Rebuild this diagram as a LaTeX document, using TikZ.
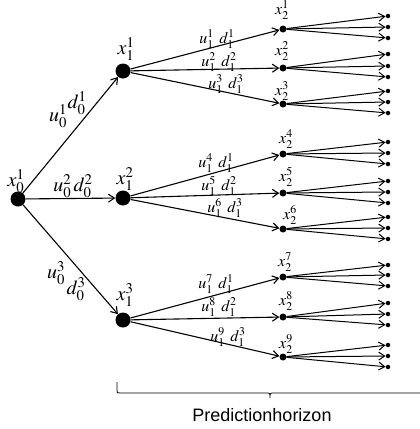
\documentclass[tikz,border=0pt]{standalone}
\usepackage{mathptmx}
\usepackage{fontspec}
\setmainfont{Liberation Serif}
\setsansfont{Liberation Sans}
\usetikzlibrary{arrows.meta}
\begin{document}
\begin{tikzpicture}[x=1pt,y=-1pt,
  >={Straight Barb[length=6pt,width=8pt]},
  big/.style={circle,fill,inner sep=0pt,minimum size=15pt},
  mid/.style={circle,fill,inner sep=0pt,minimum size=7pt},
  leaf/.style={circle,fill,inner sep=0pt,minimum size=4.5pt},
  edge/.style={->,line width=1.1pt},
  thinedge/.style={->,line width=1pt},
  lab/.style={font=\fontsize{20}{20}\selectfont,inner sep=0pt},
  slab/.style={font=\fontsize{16}{16}\selectfont,inner sep=0pt}]
\useasboundingbox (0,0) rectangle (420,429);
% root and level 1
\node[big] (r) at (18,199) {};
\node[big] (a1) at (123,71) {};
\node[big] (a2) at (123,198) {};
\node[big] (a3) at (123,320) {};
\node[lab] (lr) at (16,181) {$x_0^1$};
\node[lab] (la1) at (126,49) {$x_1^1$};
\node[lab] (la2) at (125,179) {$x_1^2$};
\node[lab] (la3) at (125,295) {$x_1^3$};
\draw[edge] (r) -- (a1);
\draw[edge] (r) -- (a2);
\draw[edge] (r) -- (a3);
\node[lab] (u01) at (58,116) {$u_0^1$};
\node[lab] (d01) at (77,103) {$d_0^1$};
\node[lab] (ud02) at (73,186) {$u_0^2\,d_0^2$};
\node[lab] (u03) at (56,273) {$u_0^3$};
\node[lab] (d03) at (76,289) {$d_0^3$};
% level 2
\foreach \k/\p/\y in {1/1/29,2/1/68,3/1/104,4/2/154,5/2/193,6/2/229,7/3/277,8/3/317,9/3/357}{
  \node[mid] (b\k) at (283,\y) {};
  \draw[edge] (a\p) -- (b\k);
}
\foreach \k/\x/\y in {1/282/10,2/282/51,3/282/91,4/286/139,5/286/177,6/290/215,7/285/262,8/286/301,9/286/344}{
  \node[slab] (lb\k) at (\x,\y) {$x_2^{\k}$};
}
\foreach \k/\j/\x/\y in {1/1/217/39,2/2/219/62,3/3/226/84,4/1/216/163,5/2/219/186,6/3/225/208,7/1/216/284,8/2/219/307,9/3/228/337}{
  \node[slab] (ue\k) at (\x,\y) {$u_1^{\k}\;\,d_1^{\j}$};
}
% leaves
\foreach \k/\ya/\yb/\yc in {1/16/27/38,2/54/66/77,3/91/102/113,4/142/153/164,5/181/192/203,6/217/228/239,7/265/275/286,8/303/314/325,9/345/356/367}{
  \node[leaf] (l\k a) at (388,\ya) {};
  \node[leaf] (l\k b) at (388,\yb) {};
  \node[leaf] (l\k c) at (388,\yc) {};
  \draw[thinedge] (b\k) -- (l\k a);
  \draw[thinedge] (b\k) -- (l\k b);
  \draw[thinedge] (b\k) -- (l\k c);
}
% horizon brace
\coordinate (bl) at (117,382);
\coordinate (br) at (425,393);
\draw[line width=0.8pt] (bl) -- (117,390) .. controls (117,393) .. (120,393) -- (266,393)
  .. controls (270,393) .. (270,398) .. controls (270,393) .. (274,393) -- (br);
\node[font=\sffamily\fontsize{18}{18}\selectfont,inner sep=0pt] (ph) at (262,415) {Predictionhorizon};
\end{tikzpicture}
\end{document}
